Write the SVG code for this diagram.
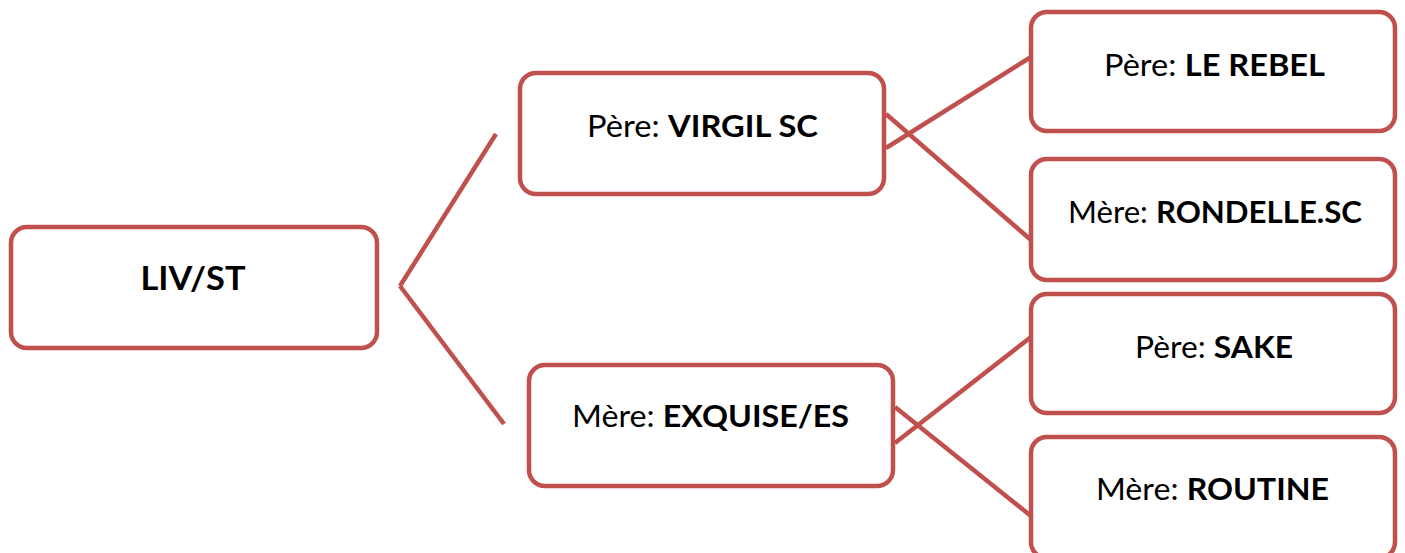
<svg xmlns="http://www.w3.org/2000/svg" width="1405" height="553" viewBox="0 0 1405 553">
<style>
.box{fill:#fff;stroke:#C0504D;stroke-width:4.5}
.lbl{font-family:Lato,"Open Sans","Liberation Sans",sans-serif;font-size:31px;fill:#000;text-anchor:middle}
.b{font-weight:bold}
.con line{stroke:#C0504D;stroke-width:4.5;fill:none}
</style>
<rect width="1405" height="553" fill="#fff"/>
<g class="con" id="connectors">
<line x1="496" y1="134" x2="400" y2="286"/>
<line x1="400" y1="286" x2="504" y2="424"/>
<line x1="886" y1="148" x2="1031" y2="57"/>
<line x1="886" y1="114" x2="1031" y2="240"/>
<line x1="895" y1="443" x2="1031" y2="337"/>
<line x1="895" y1="407" x2="1031" y2="516"/>
</g>
<g id="node-liv">
<rect class="box" x="11" y="227" width="366" height="121" rx="16"/>
<text class="lbl b" x="193" y="290" textLength="105" lengthAdjust="spacingAndGlyphs" style="font-size:32px">LIV/ST</text>
</g>
<g id="node-virgil">
<rect class="box" x="520" y="73" width="364" height="121" rx="16"/>
<text class="lbl" x="702.5" y="137" textLength="231" lengthAdjust="spacingAndGlyphs">Père: <tspan class="b">VIRGIL SC</tspan></text>
</g>
<g id="node-rebel">
<rect class="box" x="1031" y="12" width="364" height="119" rx="16"/>
<text class="lbl" x="1214.5" y="76" textLength="221" lengthAdjust="spacingAndGlyphs">Père: <tspan class="b">LE REBEL</tspan></text>
</g>
<g id="node-rondelle">
<rect class="box" x="1031" y="159" width="364" height="121" rx="16"/>
<text class="lbl" x="1215" y="223" textLength="294" lengthAdjust="spacingAndGlyphs">Mère: <tspan class="b">RONDELLE.SC</tspan></text>
</g>
<g id="node-exquise">
<rect class="box" x="529" y="365" width="364" height="121" rx="16"/>
<text class="lbl" x="710.5" y="427" textLength="277" lengthAdjust="spacingAndGlyphs">Mère: <tspan class="b">EXQUISE/ES</tspan></text>
</g>
<g id="node-sake">
<rect class="box" x="1031" y="294" width="364" height="119" rx="16"/>
<text class="lbl" x="1214" y="358" textLength="158" lengthAdjust="spacingAndGlyphs">Père: <tspan class="b">SAKE</tspan></text>
</g>
<g id="node-routine">
<rect class="box" x="1031" y="437" width="364" height="121" rx="16"/>
<text class="lbl" x="1212.5" y="500" textLength="233" lengthAdjust="spacingAndGlyphs">Mère: <tspan class="b">ROUTINE</tspan></text>
</g>
</svg>
